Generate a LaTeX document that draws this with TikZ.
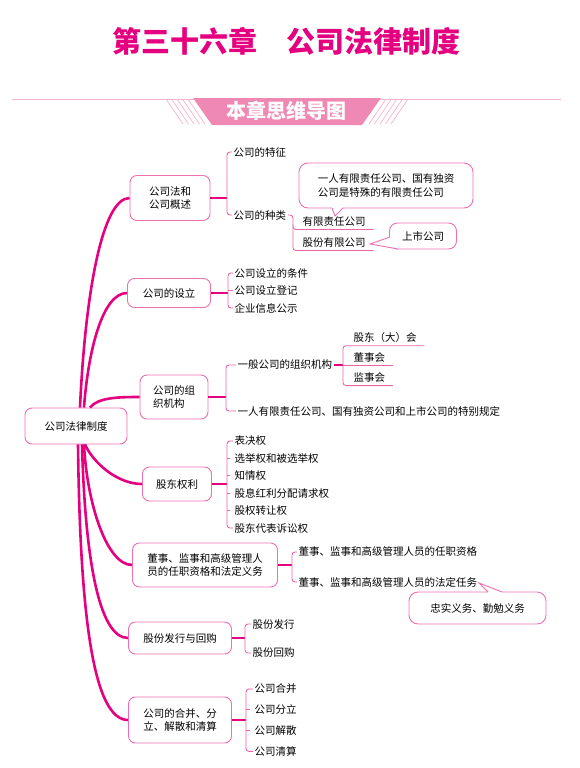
\documentclass[tikz,border=0pt]{standalone}
\usepackage{fontspec}
\setmainfont{Noto Sans CJK SC}
\usepackage{tikz}
\usetikzlibrary{calc}
\definecolor{chapmag}{RGB}{229,0,127}
\definecolor{boxpink}{RGB}{238,112,176}
\definecolor{brkpink}{RGB}{236,100,170}
\definecolor{bannerpink}{RGB}{240,136,180}
\definecolor{stripepink}{RGB}{246,178,206}

\begin{document}
\begin{tikzpicture}[x=1pt, y=-1pt,
    box/.style={draw=boxpink, line width=0.9pt, rounded corners=7pt, fill=white, align=left, inner sep=2pt, font=\fontsize{10.5}{13.5}\selectfont},
    note/.style={box, rounded corners=9pt},
    leaf/.style={anchor=west, inner xsep=1.5pt, inner ysep=0pt, font=\fontsize{10.5}{13}\selectfont},
    uleaf/.style={leaf, inner ysep=2.5pt},
    trunk/.style={chapmag, line width=2.6pt},
    link/.style={chapmag, line width=1.1pt},
    brk/.style={brkpink, line width=0.9pt, rounded corners=3pt},
    tip/.style={boxpink, line width=0.9pt},
    stripe/.style={stripepink, line width=0.7pt}]

    \useasboundingbox (0,0) rectangle (580,768);

    % Heading
    \node[font=\fontsize{29}{32}\selectfont\bfseries, text=chapmag] (title) at (286,41) {第三十六章　公司法律制度};
    \draw[stripepink, line width=1pt] (12,99) -- (561,99);
    \fill[bannerpink] (193,98) -- (381,98) -- (362,125) -- (212,125) -- cycle;
    \foreach \i in {0,...,4} {
        \draw[stripe] ({166+5.5*\i},99) -- ++(17,25);
        \draw[stripe] ({386+5.5*\i},99) -- ++(-17,25);
    }
    \node[font=\fontsize{20}{22}\selectfont\bfseries, text=white] (banner) at (286,111) {本章思维导图};

    % Root and branches
    \node[box, minimum width=102, minimum height=36] (root) at (76,426) {公司法律制度};
    \node[box, minimum width=80, minimum height=45] (b1) at (170,198) {公司法和\\公司概述};
    \node[box, minimum width=83, minimum height=29] (b2) at (169,293) {公司的设立};
    \node[box, minimum width=68, minimum height=44] (b3) at (174,397) {公司的组\\织机构};
    \node[box, minimum width=69, minimum height=34] (b4) at (177,484) {股东权利};
    \node[box, minimum width=145, minimum height=44] (b5) at (205,565) {董事、监事和高级管理人\\员的任职资格和法定义务};
    \node[box, minimum width=103, minimum height=32] (b6) at (180,638) {股份发行与回购};
    \node[box, minimum width=103, minimum height=46] (b7) at (180,720) {公司的合并、分\\立、解散和清算};

    \draw[trunk] ([xshift=4pt]root.north) .. controls +(5,-110) and +(-28,0) .. (b1.west);
    \draw[trunk] ([xshift=8pt]root.north) .. controls +(4,-55) and +(-25,0) .. (b2.west);
    \draw[trunk] ([xshift=14pt]root.north) .. controls +(8,-10) and +(-22,0) .. (b3.west);
    \draw[trunk] ([xshift=9pt]root.south) .. controls +(8,18) and +(-25,0) .. (b4.west);
    \draw[trunk] ([xshift=8pt]root.south) .. controls +(3,60) and +(-25,0) .. (b5.west);
    \draw[trunk] ([xshift=6pt]root.south) .. controls +(3,110) and +(-30,0) .. (b6.west);
    \draw[trunk] ([xshift=2pt]root.south) .. controls +(2,170) and +(-35,0) .. (b7.west);

    % Bracket columns
    \coordinate (k1) at (227,0);
    \coordinate (k2) at (228,0);
    \coordinate (k3) at (226,0);
    \coordinate (k4) at (227,0);
    \coordinate (k5) at (292,0);
    \coordinate (k6) at (245,0);
    \coordinate (k7) at (246,0);
    \coordinate (kz) at (293,0);
    \coordinate (kg) at (343,0);

    % 公司法和公司概述
    \node[leaf] (f1) at (232,152) {公司的特征};
    \node[leaf] (f2) at (232,215) {公司的种类};
    \node[uleaf] (z1) at (301,222) {有限责任公司};
    \node[uleaf] (z2) at (301,243) {股份有限公司};
    \draw[link] (b1.east) -- (b1.east -| k1);
    \draw[brk] (f1.west) -- (f1.west -| k1) -- (f2.west -| k1) -- (f2.west);
    \draw[brk] (f2.east) -- (f2.east -| kz) -- (z2.south -| kz) -- ([xshift=6pt]z2.south east);
    \draw[brk] ([yshift=5pt]z1.south -| kz) -- (z1.south -| kz) -- ([xshift=6pt]z1.south east);

    \node[note, minimum width=174, minimum height=45] (n1) at (386,185.5) {一人有限责任公司、国有独资\\公司是特殊的有限责任公司};
    \coordinate (t1) at (335,216);
    \fill[white] (332,208) -- (t1) -- (343,208) -- (343,206) -- (332,206) -- cycle;
    \draw[tip] (332,208) -- (t1) -- (343,208);

    \node[note, minimum width=67, minimum height=26, rounded corners=8pt] (n2) at (423,236) {上市公司};
    \coordinate (t2) at (370,244);
    \fill[white] (390.6,237) -- (t2) -- (398,249) -- (398,237) -- cycle;
    \draw[tip] (390,237) -- (t2) -- (398,249);

    % 公司的设立
    \foreach \t [count=\i] in {公司设立的条件,公司设立登记,企业信息公示}
        \node[leaf] (e\i) at (233,{273+17.5*(\i-1)}) {\t};
    \draw[link] (b2.east) -- (b2.east -| k2);
    \draw[brk] (e1.west) -- (e1.west -| k2) -- (e3.west -| k2) -- (e3.west);
    \draw[brk] (e2.west -| k2) -- (e2.west);

    % 公司的组织机构
    \node[leaf] (g1) at (236,365) {一般公司的组织机构};
    \node[leaf] (g2) at (236,411) {一人有限责任公司、国有独资公司和上市公司的特别规定};
    \node[uleaf] (s1) at (352,338) {股东（大）会};
    \node[uleaf] (s2) at (352,358) {董事会};
    \node[uleaf] (s3) at (352,378) {监事会};
    \draw[link] (b3.east) -- (b3.east -| k3);
    \draw[brk] (g1.west) -- (g1.west -| k3) -- (g2.west -| k3) -- (g2.west);
    \draw[link] (g1.east) -- (g1.east -| kg);
    \draw[brk] ([xshift=6pt]s1.south east) -- (s1.south -| kg) -- (s3.south -| kg) -- ([xshift=6pt]s3.south east);
    \draw[brk] (s2.south -| kg) -- ([xshift=6pt]s2.south east);

    % 股东权利
    \foreach \t [count=\i] in {表决权,选举权和被选举权,知情权,股息红利分配请求权,股权转让权,股东代表诉讼权}
        \node[leaf] (r\i) at (233,{441+17.4*(\i-1)}) {\t};
    \draw[link] (b4.east) -- (b4.east -| k4);
    \draw[brk] (r1.west) -- (r1.west -| k4) -- (r6.west -| k4) -- (r6.west);
    \foreach \i in {2,...,5}
        \draw[brk] (r\i.west -| k4) -- ([xshift=-3pt]r\i.west);

    % 董事、监事和高级管理人员
    \node[leaf] (d1) at (297,552) {董事、监事和高级管理人员的任职资格};
    \node[leaf] (d2) at (297,582) {董事、监事和高级管理人员的法定任务};
    \draw[link] (b5.east) -- (b5.east -| k5);
    \draw[brk] (d1.west) -- (d1.west -| k5) -- (d2.west -| k5) -- (d2.west);

    \node[note, minimum width=137, minimum height=32] (n3) at (477.5,608) {忠实义务、勤勉义务};
    \coordinate (t3) at (479,583);
    \fill[white] (488,592) -- (t3) -- (502,592) -- (502,594) -- (488,594) -- cycle;
    \draw[tip] (488,592) -- (t3) -- (502,592);

    % 股份发行与回购
    \node[leaf] (h1) at (251,624) {股份发行};
    \node[leaf] (h2) at (251,653) {股份回购};
    \draw[link] (b6.east) -- (b6.east -| k6);
    \draw[brk] (h1.west) -- (h1.west -| k6) -- (h2.west -| k6) -- (h2.west);

    % 公司的合并、分立、解散和清算
    \foreach \t [count=\i] in {公司合并,公司分立,公司解散,公司清算}
        \node[leaf] (m\i) at (253,{689+20.8*(\i-1)}) {\t};
    \draw[link] (b7.east) -- (b7.east -| k7);
    \draw[brk] (m1.west) -- (m1.west -| k7) -- (m4.west -| k7) -- (m4.west);
    \foreach \i in {2,3}
        \draw[brk] (m\i.west -| k7) -- ([xshift=-3pt]m\i.west);
\end{tikzpicture}
\end{document}
